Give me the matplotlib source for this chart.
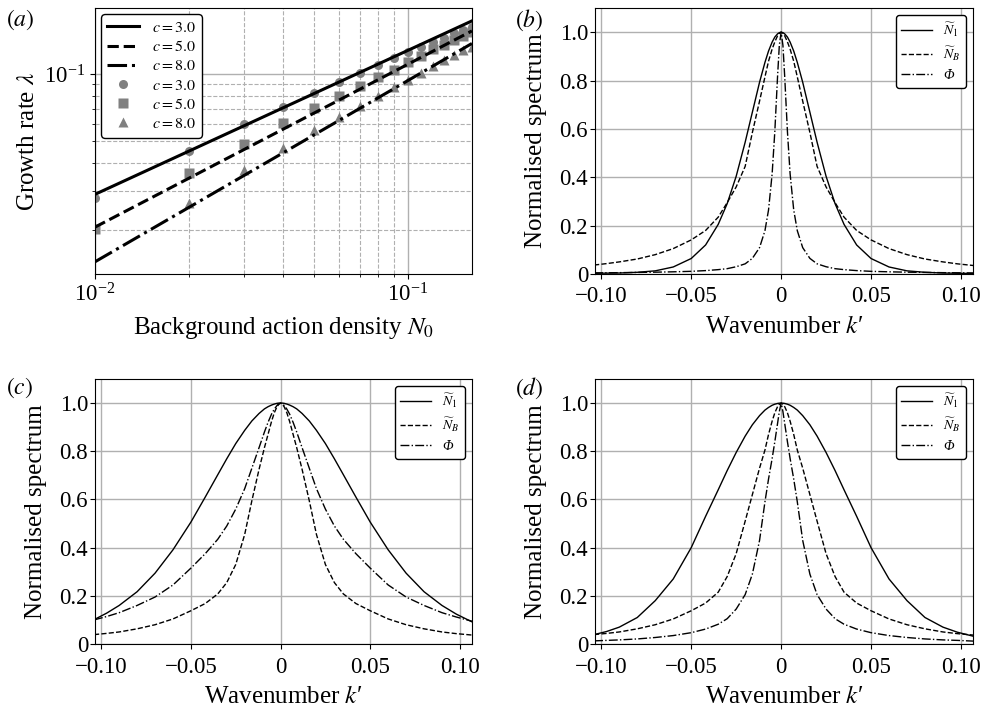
import numpy as np
import matplotlib
matplotlib.use('Agg')
import matplotlib.pyplot as plt
from matplotlib.ticker import LogLocator, NullFormatter, FixedLocator

plt.rcParams['font.family'] = ['Liberation Serif', 'DejaVu Serif']
plt.rcParams['mathtext.fontset'] = 'stix'
plt.rcParams['axes.unicode_minus'] = True

# ── (a) growth rate vs background action density ────────────────────────────
N0_LINE = [0.01, 0.16]
LAM_C3_LINE = [0.0289, 0.1733]
LAM_C5_LINE = [0.0206, 0.1563]
LAM_C8_LINE = [0.0144, 0.1373]

N0_PTS = [0.01, 0.02, 0.03, 0.04, 0.05, 0.06, 0.07, 0.08,
          0.09, 0.10, 0.11, 0.12, 0.13, 0.14, 0.15, 0.16]
LAM_C3_PTS = [0.0277, 0.0452, 0.0595, 0.0714, 0.0824, 0.0924, 0.1013, 0.1097,
              0.1176, 0.1251, 0.1325, 0.1391, 0.1454, 0.1522, 0.1574, 0.1630]
LAM_C5_PTS = [0.0202, 0.0359, 0.0486, 0.0601, 0.0702, 0.0799, 0.0884, 0.0973,
              0.1049, 0.1132, 0.1204, 0.1290, 0.1350, 0.1420, 0.1480, 0.1540]
N0_PTS_C8 = [0.02, 0.03, 0.04, 0.05, 0.06, 0.07, 0.08,
             0.09, 0.10, 0.11, 0.12, 0.13, 0.14, 0.15, 0.16]
LAM_C8_PTS = [0.0265, 0.0371, 0.0468, 0.0562, 0.0644, 0.0719, 0.0797,
              0.0872, 0.0940, 0.1014, 0.1086, 0.1155, 0.1216, 0.1280, 0.1325]

# ── (b)-(d) normalised spectra, sampled wavenumbers ─────────────────────────
K = [-0.104, -0.097, -0.09, -0.08, -0.07, -0.06, -0.05, -0.042, -0.035, -0.03,
     -0.025, -0.02, -0.016, -0.012, -0.009, -0.007, -0.005, -0.0035, -0.002,
     -0.001, 0.0, 0.001, 0.002, 0.0035, 0.005, 0.007, 0.009, 0.012, 0.016,
     0.02, 0.025, 0.03, 0.035, 0.042, 0.05, 0.06, 0.07, 0.08, 0.09, 0.098,
     0.107]

B_N1 = [0.003, 0.0035, 0.004, 0.007, 0.013, 0.029, 0.064, 0.120, 0.205, 0.291,
        0.404, 0.545, 0.669, 0.793, 0.875, 0.922, 0.959, 0.980, 0.993,
        0.998, 1.0, 0.998, 0.993, 0.980, 0.959, 0.922, 0.875, 0.793, 0.669,
        0.545, 0.404, 0.291, 0.205, 0.120, 0.064, 0.029, 0.013, 0.007, 0.004,
        0.003, 0.002]
B_NB = [0.037, 0.043, 0.050, 0.062, 0.080, 0.105, 0.141, 0.180, 0.235, 0.295,
        0.360, 0.445, 0.585, 0.715, 0.815, 0.880, 0.930, 0.960, 0.985,
        0.995, 1.0, 0.995, 0.985, 0.960, 0.930, 0.880, 0.815, 0.715, 0.585,
        0.445, 0.360, 0.295, 0.235, 0.180, 0.141, 0.105, 0.080, 0.062, 0.050,
        0.042, 0.035]
B_PHI = [0.0045, 0.005, 0.0055, 0.0065, 0.0075, 0.009, 0.011, 0.014, 0.018,
         0.022, 0.030, 0.042, 0.0645, 0.109, 0.179, 0.265, 0.414, 0.590, 0.815,
         0.946, 1.0, 0.946, 0.815, 0.590, 0.414, 0.265, 0.179, 0.109, 0.0645,
         0.042, 0.030, 0.022, 0.018, 0.014, 0.011, 0.009, 0.0075, 0.0065,
         0.0055, 0.005, 0.0043]

C_N1 = [0.101, 0.128, 0.160, 0.217, 0.294, 0.391, 0.506, 0.610, 0.703, 0.769,
        0.832, 0.887, 0.926, 0.957, 0.976, 0.985, 0.992, 0.996, 0.999,
        1.0, 1.0, 1.0, 0.999, 0.996, 0.992, 0.985, 0.976, 0.957, 0.926,
        0.887, 0.832, 0.769, 0.703, 0.610, 0.506, 0.391, 0.294, 0.217, 0.160,
        0.124, 0.091]
C_NB = [0.039, 0.044, 0.050, 0.063, 0.080, 0.104, 0.138, 0.168, 0.208, 0.255,
        0.330, 0.455, 0.595, 0.725, 0.815, 0.870, 0.925, 0.960, 0.985,
        0.995, 1.0, 0.995, 0.985, 0.960, 0.925, 0.870, 0.815, 0.725, 0.595,
        0.455, 0.330, 0.255, 0.208, 0.168, 0.138, 0.104, 0.080, 0.063, 0.050,
        0.043, 0.037]
C_PHI = [0.100, 0.114, 0.130, 0.160, 0.195, 0.245, 0.315, 0.375, 0.435, 0.490,
         0.560, 0.645, 0.730, 0.815, 0.880, 0.920, 0.955, 0.975, 0.990,
         0.997, 1.0, 0.997, 0.990, 0.975, 0.955, 0.920, 0.880, 0.815, 0.730,
         0.645, 0.560, 0.490, 0.435, 0.375, 0.315, 0.245, 0.195, 0.160, 0.130,
         0.112, 0.094]

D_N1 = [0.039, 0.052, 0.070, 0.110, 0.180, 0.270, 0.400, 0.530, 0.640, 0.720,
        0.795, 0.863, 0.910, 0.948, 0.971, 0.982, 0.991, 0.9955, 0.9985,
        0.9996, 1.0, 0.9996, 0.9985, 0.9955, 0.991, 0.982, 0.971, 0.948, 0.910,
        0.863, 0.795, 0.720, 0.640, 0.530, 0.400, 0.270, 0.180, 0.110, 0.070,
        0.049, 0.032]
D_NB = [0.039, 0.044, 0.050, 0.063, 0.080, 0.104, 0.138, 0.170, 0.215, 0.280,
        0.375, 0.510, 0.620, 0.730, 0.805, 0.870, 0.925, 0.960, 0.985,
        0.995, 1.0, 0.995, 0.985, 0.960, 0.925, 0.870, 0.805, 0.730, 0.620,
        0.510, 0.375, 0.280, 0.215, 0.170, 0.138, 0.104, 0.080, 0.063, 0.050,
        0.043, 0.037]
D_PHI = [0.013, 0.015, 0.017, 0.021, 0.027, 0.035, 0.047, 0.062, 0.082, 0.105,
         0.145, 0.205, 0.290, 0.430, 0.590, 0.685, 0.770, 0.840, 0.915,
         0.965, 1.0, 0.965, 0.915, 0.840, 0.770, 0.685, 0.590, 0.430, 0.290,
         0.205, 0.145, 0.105, 0.082, 0.062, 0.047, 0.035, 0.027, 0.021, 0.017,
         0.015, 0.012]

K_TICKS = [-0.10, -0.05, 0.0, 0.05, 0.10]
K_TICKLABELS = ['\u22120.10', '\u22120.05', '0', '0.05', '0.10']
S_TICKS = [0, 0.2, 0.4, 0.6, 0.8, 1.0]
S_TICKLABELS = ['0', '0.2', '0.4', '0.6', '0.8', '1.0']

GRAY = '#808080'
GRID = '#b0b0b0'
FS = 16.5      # tick labels
LFS = 18       # axis labels

fig = plt.figure(figsize=(9.84, 7.15), dpi=100)
ax_a = fig.add_axes([0.0965, 0.6168, 0.3831, 0.3720])
ax_b = fig.add_axes([0.6047, 0.6168, 0.3841, 0.3720])
ax_c = fig.add_axes([0.0965, 0.0993, 0.3831, 0.3706])
ax_d = fig.add_axes([0.6047, 0.0993, 0.3841, 0.3706])

# ── panel (a) ────────────────────────────────────────────────────────────────
ax = ax_a
ax.set_xscale('log')
ax.set_yscale('log')
ax.plot(N0_PTS, LAM_C3_PTS, 'o', color=GRAY, ms=6.5, mec='none', zorder=2)
ax.plot(N0_PTS, LAM_C5_PTS, 's', color=GRAY, ms=6.5, mec='none', zorder=2)
ax.plot(N0_PTS_C8, LAM_C8_PTS, '^', color=GRAY, ms=7, mec='none', zorder=2)
l1, = ax.plot(N0_LINE, LAM_C3_LINE, '-', color='k', lw=2.2, zorder=3)
l2, = ax.plot(N0_LINE, LAM_C5_LINE, '--', color='k', lw=2.2, zorder=3)
l3, = ax.plot(N0_LINE, LAM_C8_LINE, '-.', color='k', lw=2.2, zorder=3)
m1, = ax.plot([], [], 'o', color=GRAY, ms=6.5, mec='none')
m2, = ax.plot([], [], 's', color=GRAY, ms=6.5, mec='none')
m3, = ax.plot([], [], '^', color=GRAY, ms=7, mec='none')
ax.set_xlim(0.01, 0.16)
ax.set_ylim(0.0127, 0.198)
ax.xaxis.set_major_locator(LogLocator(base=10))
ax.xaxis.set_minor_locator(LogLocator(base=10, subs=np.arange(2, 10)))
ax.yaxis.set_minor_locator(LogLocator(base=10, subs=np.arange(2, 10)))
ax.xaxis.set_minor_formatter(NullFormatter())
ax.yaxis.set_minor_formatter(NullFormatter())
ax.grid(True, which='major', color=GRID, lw=1.0, ls='-')
ax.grid(True, which='minor', color=GRID, lw=0.8, ls='--')
ax.set_axisbelow(True)
ax.legend([l1, l2, l3, m1, m2, m3],
          ['$c = 3.0$', '$c = 5.0$', '$c = 8.0$',
           '$c = 3.0$', '$c = 5.0$', '$c = 8.0$'],
          loc='upper left', fontsize=11.5, frameon=True, fancybox=True,
          edgecolor='k', framealpha=1, borderaxespad=0.4, handlelength=2.0,
          labelspacing=0.2, borderpad=0.35)
ax.set_xlabel('Background action density $N_0$', fontsize=LFS, labelpad=6)
ax.set_ylabel('Growth rate $\\lambda$', fontsize=LFS, labelpad=4)
ax.tick_params(labelsize=FS)

# ── panels (b)-(d) ───────────────────────────────────────────────────────────
for ax, n1, nb, phi in [(ax_b, B_N1, B_NB, B_PHI),
                        (ax_c, C_N1, C_NB, C_PHI),
                        (ax_d, D_N1, D_NB, D_PHI)]:
    ax.plot(K, n1, '-', color='k', lw=1.0, label='$\\widetilde{N}_1$')
    ax.plot(K, nb, '--', color='k', lw=1.0, label='$\\widetilde{N}_B$')
    ax.plot(K, phi, '-.', color='k', lw=1.0, label='\u03a6')
    ax.set_xlim(-0.1035, 0.1067)
    ax.set_ylim(0, 1.1)
    ax.xaxis.set_major_locator(FixedLocator(K_TICKS))
    ax.set_xticklabels(K_TICKLABELS)
    ax.yaxis.set_major_locator(FixedLocator(S_TICKS))
    ax.set_yticklabels(S_TICKLABELS)
    ax.grid(True, color=GRID, lw=1.0)
    ax.set_axisbelow(True)
    ax.tick_params(labelsize=FS)
    ax.tick_params(axis='x', pad=5.5)
    ax.tick_params(axis='y', pad=1.5)
    ax.set_xlabel('Wavenumber $k$\u2032', fontsize=LFS, labelpad=6)
    ax.set_ylabel('Normalised spectrum', fontsize=LFS, labelpad=9)
    leg = ax.legend(loc='upper right', fontsize=10, frameon=True, fancybox=True,
                    edgecolor='k', framealpha=1, borderaxespad=0.5,
                    handlelength=2.2, labelspacing=0.45)
    leg.get_texts()[2].set_fontstyle('italic')

for lab, x, y in [('(a)', 0.006, 0.972), ('(b)', 0.523, 0.972),
                  ('(c)', 0.006, 0.457), ('(d)', 0.523, 0.457)]:
    fig.text(x, y, '$' + lab + '$', fontsize=17, ha='left', va='center')

fig.savefig('out.png', dpi=100)
